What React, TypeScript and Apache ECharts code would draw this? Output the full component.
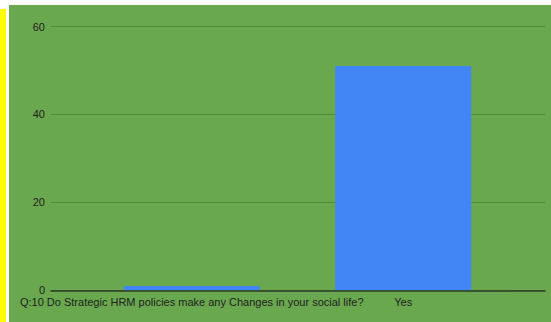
import React, { useEffect, useRef } from "react";
import * as echarts from "echarts";

// Survey answers for question 10
const categories = [
  "Q:10 Do Strategic HRM policies make any Changes in your social life?",
  "Yes",
];
const responses = [1, 51];
const yMin = 0;
const yMax = 60;
const yStep = 20;

const W = 551;
const H = 322;
const FONT = "Liberation Sans, Arial, sans-serif";

export default function App() {
  const ref = useRef<HTMLDivElement>(null);

  useEffect(() => {
    if (!ref.current) return;
    const chart = echarts.init(ref.current, undefined, { renderer: "svg" });
    const top = 26.5;
    const bottom = 31.7;
    chart.setOption({
      animation: false,
      backgroundColor: "transparent",
      textStyle: { fontFamily: FONT },
      grid: [
        { left: 51, right: 6, top, bottom },
        { left: 86, right: 42, top, bottom },
      ],
      xAxis: [
        {
          gridIndex: 0,
          type: "category",
          data: categories,
          z: 5,
          axisLine: { show: true, lineStyle: { color: "#2f3a2a", width: 1.5 } },
          axisTick: { show: false },
          axisLabel: { show: false },
          splitLine: { show: false },
        },
        {
          gridIndex: 1,
          type: "category",
          data: categories,
          axisLine: { show: false },
          axisTick: { show: false },
          axisLabel: {
            interval: 0,
            fontSize: 11,
            color: "#1e1e1e",
            margin: 6,
            fontFamily: FONT,
          },
        },
      ],
      yAxis: [
        {
          gridIndex: 0,
          type: "value",
          min: yMin,
          max: yMax,
          interval: yStep,
          axisLine: { show: false },
          axisTick: { show: false },
          axisLabel: { fontSize: 11, color: "#1e1e1e", margin: 6, fontFamily: FONT },
          splitLine: { show: true, lineStyle: { color: "#4f8a3a", width: 1 } },
        },
        {
          gridIndex: 1,
          type: "value",
          min: yMin,
          max: yMax,
          interval: yStep,
          show: false,
        },
      ],
      series: [
        {
          type: "bar",
          xAxisIndex: 1,
          yAxisIndex: 1,
          data: responses,
          barWidth: 136,
          itemStyle: { color: "#4285f4" },
        },
      ],
    });
    return () => chart.dispose();
  }, []);

  return (
    <div
      style={{
        position: "fixed",
        left: 0,
        top: 0,
        width: W,
        height: H,
        background: "#ffffff",
        overflow: "hidden",
      }}
    >
      <div
        style={{
          position: "absolute",
          left: 0,
          top: 9,
          width: 6,
          height: H - 9,
          background: "#ffff00",
        }}
      />
      <div
        style={{
          position: "absolute",
          left: 9,
          top: 5,
          width: W - 9,
          height: H - 5,
          background: "#6aa84f",
        }}
      />
      <div
        ref={ref}
        style={{ position: "absolute", left: 0, top: 0, width: W, height: H }}
      />
    </div>
  );
}
